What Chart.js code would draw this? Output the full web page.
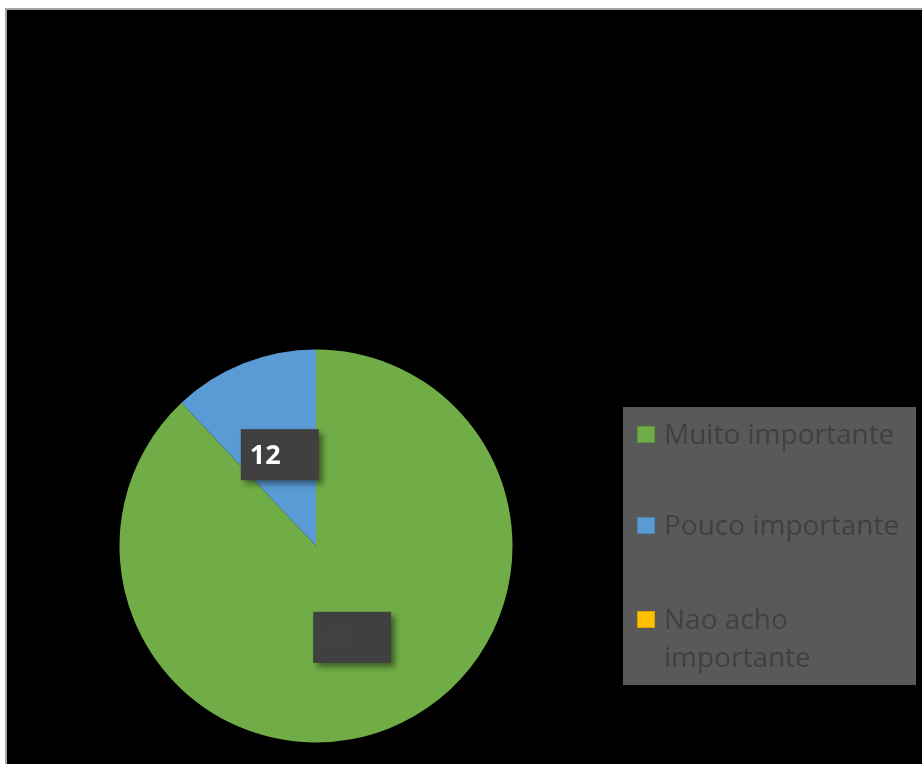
<!DOCTYPE html>
<html>
<head>
<meta charset="utf-8">
<script src="https://cdn.jsdelivr.net/npm/chart.js@4"></script>
<style>
  html, body { margin: 0; padding: 0; background: #fff; width: 922px; height: 764px; overflow: hidden; }
  #frame { position: absolute; left: 5px; top: 8px; width: 930px; height: 770px; background: #000; border-top: 2px solid #a6a6a6; border-left: 2px solid #a6a6a6; }
  #graph { position: absolute; left: 0; top: 0; }
</style>
</head>
<body>
<div id="frame"></div>
<canvas id="graph" width="922" height="764"></canvas>
<script>
// kategorier og verdier lest fra bildet
const categories = ['Muito importante', 'Pouco importante', 'Nao acho importante'];
const values = [88, 12, 0];
const colors = ['#70ad47', '#5b9bd5', '#ffc000'];
const labelColors = ['#424242', '#ffffff', '#ffffff'];   // etiketten på grønn er usynlig i originalen

const FONT = '"Open Sans", "Liberation Sans", sans-serif';

// tegner etikettbokser midt i hver sektor
const dataLabels = {
    id: 'dataLabels',
    afterDatasetsDraw(chart) {
        const ctx = chart.ctx;
        const meta = chart.getDatasetMeta(0);
        meta.data.forEach(function(arc, i) {
            if (!values[i]) return;
            const pos = arc.tooltipPosition();
            const w = 78, h = 51;
            const x = pos.x - w / 2, y = pos.y - h / 2;
            ctx.save();
            ctx.shadowColor = 'rgba(0,0,0,0.45)';
            ctx.shadowBlur = 6;
            ctx.shadowOffsetX = 4;
            ctx.shadowOffsetY = 4;
            ctx.fillStyle = '#404040';
            ctx.fillRect(x, y, w, h);
            ctx.restore();
            ctx.save();
            ctx.fillStyle = labelColors[i];
            ctx.font = 'bold 27px ' + FONT;
            ctx.textBaseline = 'middle';
            ctx.fillText(String(values[i]), x + 9, pos.y + 2);
            ctx.restore();
        });
    }
};

// egen legende i grå boks til høyre
const boxLegend = {
    id: 'boxLegend',
    afterDraw(chart) {
        const ctx = chart.ctx;
        ctx.save();
        ctx.fillStyle = '#595959';
        ctx.fillRect(623, 407, 293, 278);
        ctx.font = '28px ' + FONT;
        ctx.textBaseline = 'alphabetic';
        const tops = [426, 517, 611];
        const maxWidth = 245;
        categories.forEach(function(name, i) {
            const top = tops[i];
            ctx.fillStyle = colors[i];
            ctx.fillRect(637, top, 18, 17);
            ctx.strokeStyle = 'rgba(0,0,0,0.15)';
            ctx.lineWidth = 1;
            ctx.strokeRect(637.5, top + 0.5, 17, 16);
            // enkel ordbryting
            const words = name.split(' ');
            const lines = [];
            let line = '';
            for (const word of words) {
                const test = line ? line + ' ' + word : word;
                if (ctx.measureText(test).width > maxWidth && line) {
                    lines.push(line);
                    line = word;
                } else {
                    line = test;
                }
            }
            lines.push(line);
            ctx.fillStyle = '#404040';
            lines.forEach(function(l, j) {
                ctx.fillText(l, 664, top + 18 + j * 38);
            });
        });
        ctx.restore();
    }
};

const chart = new Chart(document.getElementById('graph').getContext('2d'), {
    type: 'pie',
    data: {
        labels: categories,
        datasets: [{
            data: values,
            backgroundColor: colors,
            borderWidth: 0
        }]
    },
    options: {
        responsive: false,
        animation: false,
        layout: {
            padding: { left: 119.5, right: 409.5, top: 349.5, bottom: 21.5 }
        },
        plugins: {
            legend: { display: false },
            tooltip: { enabled: false }
        }
    },
    plugins: [dataLabels, boxLegend]
});
</script>
</body>
</html>
